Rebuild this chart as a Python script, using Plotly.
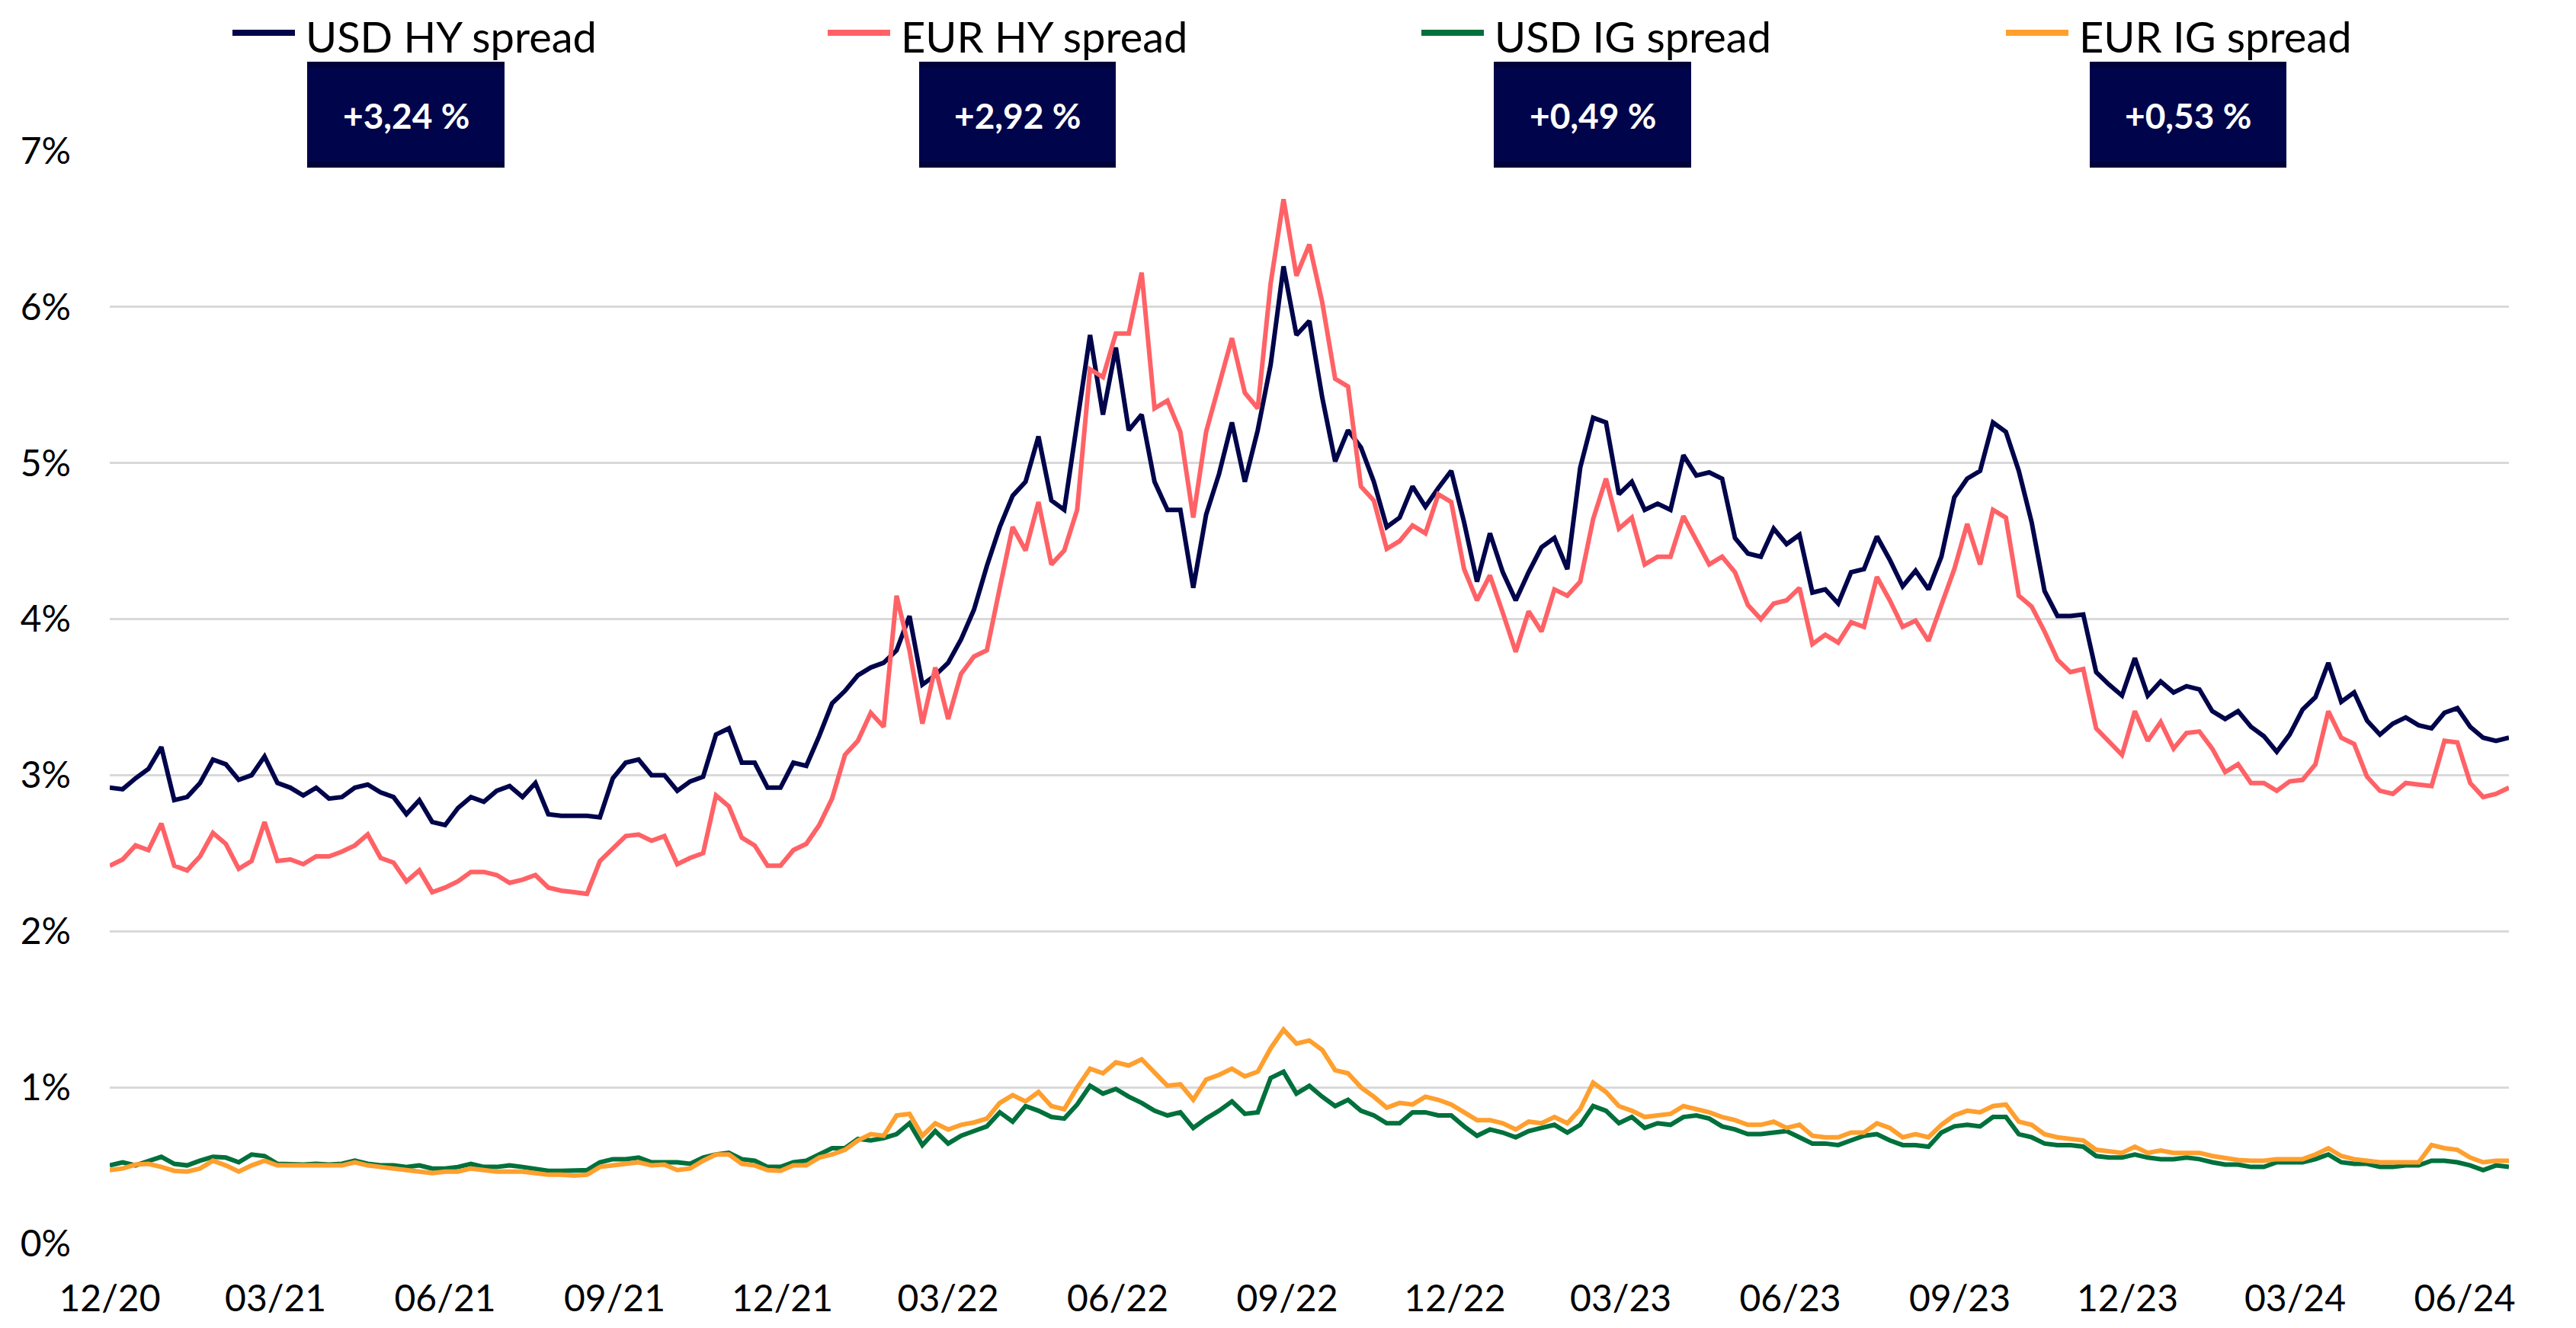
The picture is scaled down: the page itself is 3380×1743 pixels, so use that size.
import pandas as pd
import plotly.graph_objects as go

# ---------------- data (weekly readings, % spread) ----------------
dates = pd.date_range("2020-12-01", periods=187, freq="7D")

usd_hy = [
    2.92, 2.91, 2.98, 3.04, 3.18, 2.84, 2.86, 2.95, 3.10, 3.07,
    2.97, 3.00, 3.12, 2.95, 2.92, 2.87, 2.92, 2.85, 2.86, 2.92,
    2.94, 2.89, 2.86, 2.75, 2.84, 2.70, 2.68, 2.79, 2.86, 2.83,
    2.90, 2.93, 2.86, 2.95, 2.75, 2.74, 2.74, 2.74, 2.73, 2.98,
    3.08, 3.10, 3.00, 3.00, 2.90, 2.96, 2.99, 3.26, 3.30, 3.08,
    3.08, 2.92, 2.92, 3.08, 3.06, 3.25, 3.46, 3.54, 3.64, 3.69,
    3.72, 3.80, 4.02, 3.58, 3.64, 3.72, 3.87, 4.06, 4.34, 4.59,
    4.79, 4.88, 5.17, 4.76, 4.70, 5.28, 5.82, 5.31, 5.74, 5.21,
    5.31, 4.88, 4.70, 4.70, 4.20, 4.67, 4.93, 5.26, 4.88, 5.21,
    5.63, 6.26, 5.82, 5.91, 5.42, 5.01, 5.21, 5.10, 4.88, 4.59,
    4.65, 4.85, 4.72, 4.84, 4.95, 4.62, 4.24, 4.55, 4.30, 4.12,
    4.30, 4.46, 4.52, 4.32, 4.97, 5.29, 5.26, 4.80, 4.88, 4.70,
    4.74, 4.70, 5.05, 4.92, 4.94, 4.90, 4.52, 4.42, 4.40, 4.58,
    4.48, 4.54, 4.17, 4.19, 4.10, 4.30, 4.32, 4.53, 4.38, 4.21,
    4.31, 4.19, 4.40, 4.78, 4.90, 4.95, 5.26, 5.20, 4.95, 4.62,
    4.18, 4.02, 4.02, 4.03, 3.66, 3.58, 3.51, 3.75, 3.51, 3.60,
    3.53, 3.57, 3.55, 3.41, 3.36, 3.41, 3.31, 3.25, 3.15, 3.26,
    3.42, 3.50, 3.72, 3.47, 3.53, 3.35, 3.26, 3.33, 3.37, 3.32,
    3.30, 3.40, 3.43, 3.31, 3.24, 3.22, 3.24,
]

eur_hy = [
    2.42, 2.46, 2.55, 2.52, 2.69, 2.42, 2.39, 2.48, 2.63, 2.56,
    2.40, 2.45, 2.70, 2.45, 2.46, 2.43, 2.48, 2.48, 2.51, 2.55,
    2.62, 2.47, 2.44, 2.32, 2.39, 2.25, 2.28, 2.32, 2.38, 2.38,
    2.36, 2.31, 2.33, 2.36, 2.28, 2.26, 2.25, 2.24, 2.45, 2.53,
    2.61, 2.62, 2.58, 2.61, 2.43, 2.47, 2.50, 2.87, 2.80, 2.60,
    2.55, 2.42, 2.42, 2.52, 2.56, 2.68, 2.85, 3.13, 3.22, 3.40,
    3.31, 4.15, 3.80, 3.33, 3.69, 3.36, 3.65, 3.76, 3.80, 4.20,
    4.59, 4.44, 4.75, 4.35, 4.44, 4.70, 5.60, 5.55, 5.83, 5.83,
    6.22, 5.35, 5.40, 5.20, 4.65, 5.20, 5.50, 5.80, 5.45, 5.35,
    6.15, 6.69, 6.20, 6.40, 6.03, 5.54, 5.49, 4.85, 4.76, 4.45,
    4.50, 4.60, 4.55, 4.80, 4.75, 4.32, 4.12, 4.28, 4.04, 3.79,
    4.05, 3.92, 4.19, 4.15, 4.24, 4.64, 4.90, 4.58, 4.65, 4.35,
    4.40, 4.40, 4.66, 4.50, 4.35, 4.40, 4.30, 4.09, 4.00, 4.10,
    4.12, 4.20, 3.84, 3.90, 3.85, 3.98, 3.95, 4.27, 4.12, 3.95,
    3.99, 3.86, 4.10, 4.32, 4.61, 4.35, 4.70, 4.65, 4.15, 4.08,
    3.92, 3.74, 3.66, 3.68, 3.30, 3.22, 3.13, 3.41, 3.22, 3.34,
    3.17, 3.27, 3.28, 3.17, 3.02, 3.07, 2.95, 2.95, 2.90, 2.96,
    2.97, 3.07, 3.41, 3.24, 3.20, 2.99, 2.90, 2.88, 2.95, 2.94,
    2.93, 3.22, 3.21, 2.95, 2.86, 2.88, 2.92,
]

usd_ig = [
    0.50, 0.52, 0.50, 0.53, 0.555, 0.51, 0.50, 0.53, 0.555, 0.55,
    0.52, 0.57, 0.56, 0.51, 0.505, 0.505, 0.51, 0.505, 0.51, 0.53,
    0.51, 0.50, 0.50, 0.49, 0.50, 0.48, 0.48, 0.49, 0.51, 0.49,
    0.49, 0.50, 0.49, 0.48, 0.465, 0.465, 0.465, 0.47, 0.52, 0.54,
    0.54, 0.55, 0.52, 0.52, 0.52, 0.51, 0.55, 0.57, 0.58, 0.54,
    0.53, 0.49, 0.49, 0.52, 0.53, 0.57, 0.61, 0.61, 0.67, 0.66,
    0.675, 0.70, 0.77, 0.63, 0.72, 0.64, 0.69, 0.72, 0.75, 0.84,
    0.78, 0.88, 0.85, 0.81, 0.80, 0.89, 1.01, 0.96, 0.99, 0.94,
    0.90, 0.85, 0.82, 0.84, 0.74, 0.80, 0.85, 0.91, 0.83, 0.84,
    1.06, 1.10, 0.96, 1.01, 0.94, 0.88, 0.92, 0.85, 0.82, 0.77,
    0.77, 0.84, 0.84, 0.82, 0.82, 0.75, 0.69, 0.73, 0.71, 0.68,
    0.72, 0.74, 0.76, 0.71, 0.76, 0.88, 0.85, 0.77, 0.81, 0.74,
    0.77, 0.76, 0.81, 0.82, 0.80, 0.75, 0.73, 0.70, 0.70, 0.71,
    0.72, 0.68, 0.64, 0.64, 0.63, 0.66, 0.69, 0.70, 0.66, 0.63,
    0.63, 0.62, 0.71, 0.75, 0.76, 0.75, 0.81, 0.81, 0.70, 0.68,
    0.64, 0.63, 0.63, 0.62, 0.56, 0.55, 0.55, 0.57, 0.55, 0.54,
    0.54, 0.55, 0.54, 0.52, 0.505, 0.505, 0.49, 0.49, 0.52, 0.52,
    0.52, 0.54, 0.57, 0.52, 0.51, 0.51, 0.49, 0.49, 0.50, 0.50,
    0.53, 0.53, 0.52, 0.50, 0.47, 0.50, 0.49,
]

eur_ig = [
    0.47, 0.48, 0.505, 0.51, 0.49, 0.465, 0.46, 0.48, 0.53, 0.50,
    0.46, 0.50, 0.53, 0.50, 0.50, 0.50, 0.50, 0.50, 0.50, 0.52,
    0.50, 0.49, 0.48, 0.47, 0.46, 0.45, 0.46, 0.46, 0.48, 0.47,
    0.46, 0.46, 0.46, 0.45, 0.44, 0.44, 0.435, 0.44, 0.49, 0.50,
    0.51, 0.52, 0.50, 0.505, 0.47, 0.48, 0.53, 0.57, 0.57, 0.51,
    0.50, 0.47, 0.465, 0.50, 0.50, 0.55, 0.57, 0.60, 0.66, 0.70,
    0.69, 0.82, 0.83, 0.69, 0.77, 0.73, 0.76, 0.775, 0.80, 0.90,
    0.95, 0.91, 0.97, 0.88, 0.86, 1.00, 1.12, 1.09, 1.16, 1.14,
    1.18, 1.10, 1.01, 1.02, 0.92, 1.05, 1.08, 1.12, 1.07, 1.10,
    1.25, 1.37, 1.28, 1.30, 1.24, 1.11, 1.09, 1.00, 0.94, 0.87,
    0.90, 0.89, 0.94, 0.92, 0.89, 0.84, 0.79, 0.79, 0.77, 0.73,
    0.78, 0.77, 0.81, 0.77, 0.86, 1.03, 0.97, 0.88, 0.85, 0.81,
    0.82, 0.83, 0.88, 0.86, 0.84, 0.81, 0.79, 0.76, 0.76, 0.78,
    0.74, 0.76, 0.69, 0.68, 0.68, 0.71, 0.71, 0.77, 0.74, 0.68,
    0.70, 0.68, 0.76, 0.82, 0.85, 0.84, 0.88, 0.89, 0.78, 0.76,
    0.70, 0.68, 0.67, 0.66, 0.60, 0.59, 0.58, 0.62, 0.58, 0.595,
    0.58, 0.58, 0.58, 0.56, 0.545, 0.535, 0.53, 0.53, 0.54, 0.54,
    0.54, 0.57, 0.61, 0.56, 0.54, 0.53, 0.52, 0.52, 0.52, 0.52,
    0.63, 0.61, 0.60, 0.55, 0.52, 0.53, 0.53,
]

series_names = ["USD HY spread", "EUR HY spread", "USD IG spread", "EUR IG spread"]
series_colors = ["#00054B", "#FF6266", "#00703C", "#FF9F2E"]
change_labels = ["+3,24 %", "+2,92 %", "+0,49 %", "+0,53 %"]

tick_dates = pd.date_range("2020-12-01", "2024-06-01", freq="3MS")
tick_labels = ["12/20", "03/21", "06/21", "09/21", "12/21", "03/22", "06/22",
               "09/22", "12/22", "03/23", "06/23", "09/23", "12/23", "03/24", "06/24"]

y_ticks = [0, 1, 2, 3, 4, 5, 6, 7]
y_tick_labels = ["0%", "1%", "2%", "3%", "4%", "5%", "6%", "7%"]

# ---------------- figure ----------------
W, H = 3380, 1743
ML, MR, MT, MB = 144, 88, 198, 111
PW, PH = W - ML - MR, H - MT - MB


def px(x):
    return (x - ML) / PW


def py(y):
    return (H - MB - y) / PH


fig = go.Figure()
for name, vals, col in zip(series_names, [usd_hy, eur_hy, usd_ig, eur_ig], series_colors):
    fig.add_trace(go.Scatter(x=dates, y=vals, mode="lines", name=name,
                             line=dict(color=col, width=6), showlegend=False))

shapes = []
annotations = []

# manual legend
leg_line_x = [301, 1082, 1861, 2628]
for i, (name, col) in enumerate(zip(series_names, series_colors)):
    x0 = leg_line_x[i]
    shapes.append(dict(type="line", xref="paper", yref="paper",
                       x0=px(x0 + 4), x1=px(x0 + 86), y0=py(43), y1=py(43),
                       line=dict(color=col, width=8)))
    annotations.append(dict(text=name, xref="paper", yref="paper",
                            x=px(x0 + 98), y=py(47), xanchor="left", yanchor="middle",
                            showarrow=False,
                            font=dict(family="Lato", size=56, color="#000000")))

# value boxes
box_x = [(403, 662), (1206, 1464), (1960, 2219), (2742, 3000)]
for (x0, x1), lab in zip(box_x, change_labels):
    shapes.append(dict(type="rect", xref="paper", yref="paper",
                       x0=px(x0), x1=px(x1), y0=py(220), y1=py(81),
                       fillcolor="#00054B", line=dict(width=0), layer="above"))
    shapes.append(dict(type="rect", xref="paper", yref="paper",
                       x0=px(x0), x1=px(x1), y0=py(89), y1=py(81),
                       fillcolor="#00033A", line=dict(width=0), layer="above"))
    shapes.append(dict(type="rect", xref="paper", yref="paper",
                       x0=px(x0), x1=px(x1), y0=py(220), y1=py(212),
                       fillcolor="#00033A", line=dict(width=0), layer="above"))
    annotations.append(dict(text="<b>" + lab + "</b>", xref="paper", yref="paper",
                            x=px((x0 + x1) / 2), y=py(152), xanchor="center", yanchor="middle",
                            showarrow=False,
                            font=dict(family="Lato", size=46, color="#FFFFFF")))

fig.update_layout(
    width=W, height=H,
    margin=dict(l=ML, r=MR, t=MT, b=MB, pad=0),
    paper_bgcolor="#FFFFFF", plot_bgcolor="#FFFFFF",
    shapes=shapes, annotations=annotations,
    showlegend=False,
    xaxis=dict(
        type="date",
        range=[dates[0], dates[-1]],
        tickvals=list(tick_dates), ticktext=tick_labels,
        showgrid=False, zeroline=False, showline=False, ticks="",
        tickfont=dict(family="Lato", size=48, color="#000000"),
        ticklabelstandoff=40,
    ),
    yaxis=dict(
        range=[0, 7],
        tickvals=y_ticks, ticktext=y_tick_labels,
        showgrid=True, gridcolor="#D9D9D9", gridwidth=3,
        zeroline=False, showline=False, ticks="",
        tickfont=dict(family="Lato", size=48, color="#000000"),
        ticklabelstandoff=50,
    ),
)

fig.write_html("out.html", config={"displayModeBar": False},
               post_script="document.body.style.margin='0';document.body.style.overflow='hidden';")
